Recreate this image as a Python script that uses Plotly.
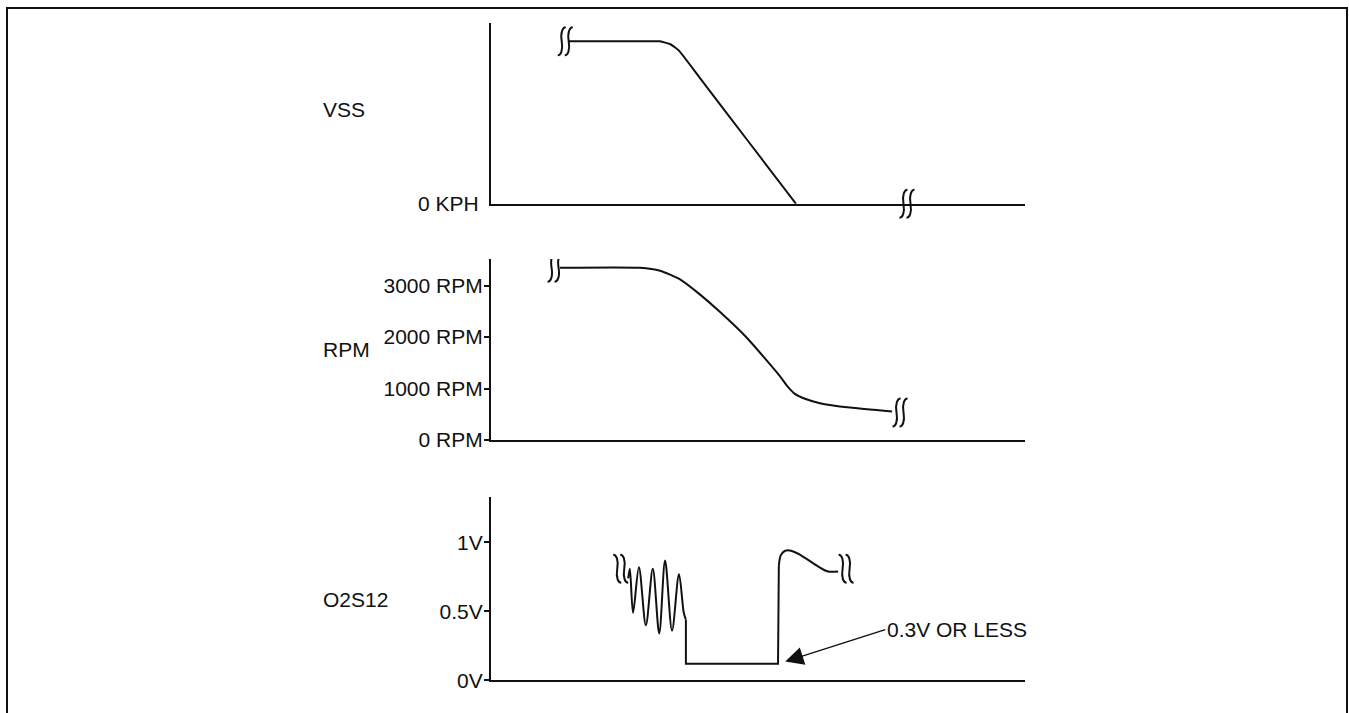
import plotly.graph_objects as go

# ---- data -------------------------------------------------------------
# time axis runs 0..100 (arbitrary units)
vss_t = [14.6, 29.8, 31.65, 33.6, 35.24, 39.14, 48.13, 57.12]
vss_v = [90.0, 90.0, 90.0, 88.4, 84.7, 69.6, 34.8, 0.0]
vss_breaks_t = [13.9, 77.9]
vss_breaks_v = [90.0, 0.0]

rpm_t = [12.9, 27.9, 31.65, 35.4, 39.1, 42.9, 47.9, 51.3, 54.1, 55.6, 56.9, 58.8, 61.6, 67.2, 75.1]
rpm_v = [3344, 3344, 3287, 3119, 2828, 2484, 1987, 1586, 1242, 1032, 898, 803, 717, 631, 554]
rpm_breaks_t = [12.0, 76.6]
rpm_breaks_v = [3344, 535]
rpm_ticks = [0, 1000, 2000, 3000]
rpm_ticktext = ["0 RPM", "1000 RPM", "2000 RPM", "3000 RPM"]

# oxygen sensor: switching section, lean drop, rich recovery
o2_switch_t = [25.7, 26.0, 26.6, 27.7, 29.0, 30.3, 31.5, 32.6, 33.9, 35.2, 36.1, 36.5]
o2_switch_v = [0.74, 0.81, 0.49, 0.82, 0.40, 0.81, 0.34, 0.87, 0.36, 0.77, 0.49, 0.44]
o2_lean_t = [36.5, 36.5, 53.75, 53.9]
o2_lean_v = [0.44, 0.12, 0.12, 0.83]
o2_rich_t = [53.9, 54.3, 55.1, 56.2, 57.9, 61.1, 63.1, 65.0]
o2_rich_v = [0.83, 0.91, 0.94, 0.94, 0.91, 0.83, 0.79, 0.79]
o2_breaks_t = [24.3, 66.5]
o2_breaks_v = [0.81, 0.81]
o2_ticks = [0, 0.5, 1.0]
o2_ticktext = ["0V", "0.5V", "1V"]
o2_note_t, o2_note_v = 55.1, 0.136

# ---- layout geometry --------------------------------------------------
W, H = 1349, 713
FONT = "Liberation Sans, Arial, Helvetica, sans-serif"
FS = 21
INK = "#111111"


def py(p):
    return 1 - p / H


XDOM = [491 / W, 1025 / W]

fig = go.Figure()

fig.add_trace(go.Scatter(x=vss_t, y=vss_v, mode="lines", line=dict(color=INK, width=2, shape="spline", smoothing=0.4),
                         xaxis="x", yaxis="y", showlegend=False, hoverinfo="skip"))
fig.add_trace(go.Scatter(x=rpm_t, y=rpm_v, mode="lines", line=dict(color=INK, width=2, shape="spline", smoothing=0.6),
                         xaxis="x2", yaxis="y2", showlegend=False, hoverinfo="skip"))
fig.add_trace(go.Scatter(x=o2_switch_t, y=o2_switch_v, mode="lines",
                         line=dict(color=INK, width=2, shape="spline", smoothing=0.9),
                         xaxis="x3", yaxis="y3", showlegend=False, hoverinfo="skip"))
fig.add_trace(go.Scatter(x=o2_lean_t, y=o2_lean_v, mode="lines", line=dict(color=INK, width=2),
                         xaxis="x3", yaxis="y3", showlegend=False, hoverinfo="skip"))
fig.add_trace(go.Scatter(x=o2_rich_t, y=o2_rich_v, mode="lines",
                         line=dict(color=INK, width=2, shape="spline", smoothing=1.0),
                         xaxis="x3", yaxis="y3", showlegend=False, hoverinfo="skip"))

xcommon = dict(domain=XDOM, range=[0, 100], showline=True, linecolor=INK, linewidth=2.2,
               showgrid=False, zeroline=False, showticklabels=False, ticks="", fixedrange=True)
ycommon = dict(showline=True, linecolor=INK, linewidth=2.2, showgrid=False, zeroline=False,
               tickfont=dict(family=FONT, size=FS, color=INK), fixedrange=True)

layout = dict(
    width=W, height=H, autosize=False,
    margin=dict(l=0, r=0, t=0, b=0),
    paper_bgcolor="white", plot_bgcolor="white",
    font=dict(family=FONT, size=FS, color=INK),
    showlegend=False,
    xaxis=dict(xcommon, anchor="y"),
    xaxis2=dict(xcommon, anchor="y2"),
    xaxis3=dict(xcommon, anchor="y3"),
    yaxis=dict(ycommon, domain=[py(207), py(23)], range=[0, 100.36], anchor="x",
               tickvals=[0], ticktext=["0 KPH"], ticks="", ticklabelstandoff=6),
    yaxis2=dict(ycommon, domain=[py(447), py(263)], range=[0, 3516], anchor="x2",
                tickvals=rpm_ticks, ticktext=rpm_ticktext, ticks="outside", ticklen=5,
                tickwidth=2, tickcolor=INK, ticklabelstandoff=-3),
    yaxis3=dict(ycommon, domain=[py(691), py(505)], range=[0, 1.3286], anchor="x3",
                tickvals=o2_ticks, ticktext=o2_ticktext, ticks="outside", ticklen=5,
                tickwidth=2, tickcolor=INK, ticklabelstandoff=-3),
    # inner halves of the cross-shaped tick marks
    yaxis4=dict(overlaying="y2", range=[0, 3516], anchor="x2", showline=False, showgrid=False,
                zeroline=False, tickvals=rpm_ticks[1:], ticks="inside", ticklen=5, tickwidth=2,
                tickcolor=INK, showticklabels=False, fixedrange=True),
    yaxis5=dict(overlaying="y3", range=[0, 1.3286], anchor="x3", showline=False, showgrid=False,
                zeroline=False, tickvals=o2_ticks[1:], ticks="inside", ticklen=5, tickwidth=2,
                tickcolor=INK, showticklabels=False, fixedrange=True),
)
fig.update_layout(**layout)

# signal names on the left
for name, p in [("VSS", 111), ("RPM", 355), ("O2S12", 609)]:
    fig.add_annotation(text=name, xref="paper", yref="paper", x=321 / W, y=py(p),
                       xanchor="left", yanchor="middle", showarrow=False,
                       font=dict(family=FONT, size=FS, color=INK))

# callout for the lean dip
fig.add_annotation(text="0.3V OR LESS", xref="x3", yref="y3", x=o2_note_t, y=o2_note_v,
                   ax=100, ay=-32, xanchor="left", yanchor="middle", showarrow=True,
                   arrowhead=2, arrowsize=2.6, arrowwidth=1.4, arrowcolor=INK, standoff=0,
                   font=dict(family=FONT, size=FS, color=INK))

# outer frame
fig.add_shape(type="rect", xref="paper", yref="paper", x0=7 / W, x1=1347 / W, y0=-0.05, y1=py(8),
              line=dict(color=INK, width=2), fillcolor="rgba(0,0,0,0)")


# break marks: two wavy strokes, drawn in pixel units around an anchor
def squiggle(cx, mirror):
    s = -1 if mirror else 1
    return (f"M {cx + 4 * s},14 C {cx + 1 * s},14 {cx - 1.5 * s},9 {cx},0 "
            f"C {cx + 1.5 * s},-9 {cx - 1 * s},-14 {cx - 4 * s},-14")


def add_break(xref, yref, t, v, mirror=False):
    path = squiggle(-3.5, mirror) + " " + squiggle(3.5, mirror)
    fig.add_shape(type="path", path=path, xref=xref, yref=yref,
                  xsizemode="pixel", ysizemode="pixel", xanchor=t, yanchor=v,
                  line=dict(color=INK, width=2))


# the speed trace's break sits on the axis itself, so anchor it to the axis bottom
add_break("x", "y", vss_breaks_t[0], vss_breaks_v[0])
add_break("x", "y domain", vss_breaks_t[1], 0)
for t, v in zip(rpm_breaks_t, rpm_breaks_v):
    add_break("x2", "y2", t, v)
for t, v in zip(o2_breaks_t, o2_breaks_v):
    add_break("x3", "y3", t, v, mirror=True)

fig.write_html("out.html", config={"displayModeBar": False})
